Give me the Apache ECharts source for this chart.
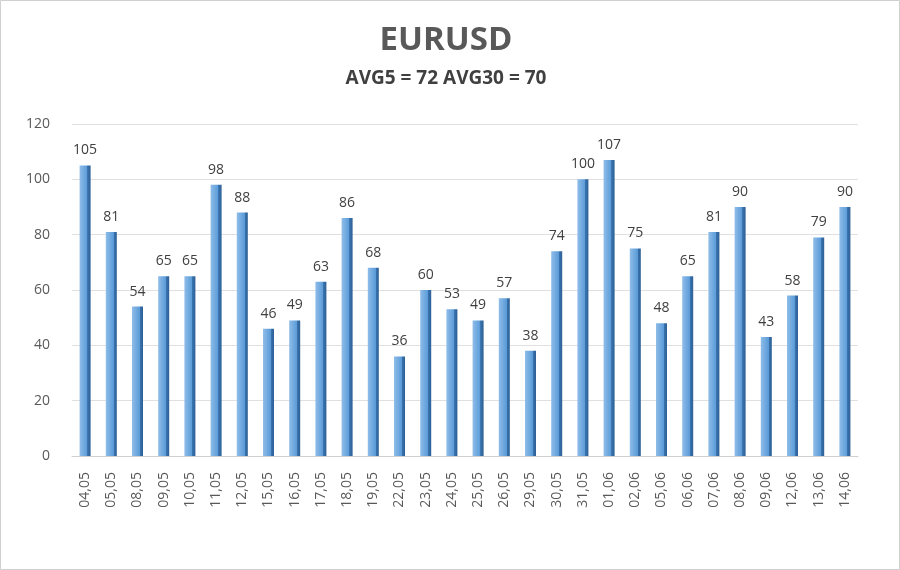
<!DOCTYPE html>
<html><head><meta charset="utf-8">
<script src="https://cdn.jsdelivr.net/npm/echarts@6/dist/echarts.min.js"></script>
<style>html,body{margin:0;padding:0;background:#fff}#c{width:900px;height:570px}</style>
</head><body><div id="c"></div>
<script>
const categories = ["04,05","05,05","08,05","09,05","10,05","11,05","12,05","15,05","16,05","17,05","18,05","19,05","22,05","23,05","24,05","25,05","26,05","29,05","30,05","31,05","01,06","02,06","05,06","06,06","07,06","08,06","09,06","12,06","13,06","14,06"];
const values = [105,81,54,65,65,98,88,46,49,63,86,68,36,60,53,49,57,38,74,100,107,75,48,65,81,90,43,58,79,90];
const yTicks = [0,20,40,60,80,100,120];
const titleText = "EURUSD";
const subtitleText = "AVG5 = 72 AVG30 = 70";

const chart = echarts.init(document.getElementById('c'), null, {renderer:'canvas'});
const font = "'Open Sans', 'Noto Sans', sans-serif";
chart.setOption({
  animation:false,
  backgroundColor:'#fff',
  title:[
    {text:titleText,left:441,textAlign:'center',top:19,textStyle:{fontFamily:font,fontSize:33,fontWeight:'bold',color:'#595959'}},
    {text:subtitleText,left:441,textAlign:'center',top:64,textStyle:{fontFamily:font,fontSize:19,fontWeight:'bold',color:'#404040'}}
  ],
  graphic:[{type:'rect',shape:{x:0.5,y:0.5,width:899,height:569},style:{fill:'none',stroke:'#d0d0d0',lineWidth:1},silent:true}],
  grid:{left:72,right:42,top:124,bottom:114},
  xAxis:{type:'category',data:categories,
    axisLine:{lineStyle:{color:'#d0d0d0'}},axisTick:{show:false},
    axisLabel:{rotate:90,fontFamily:font,fontSize:14,color:'#595959',margin:16}},
  yAxis:{type:'value',min:0,max:120,interval:20,
    axisLine:{show:false},axisTick:{show:false},
    splitLine:{lineStyle:{color:'#e0e0e0'}},
    axisLabel:{fontFamily:font,fontSize:14,color:'#595959',margin:22,
      formatter:v=>yTicks.includes(v)?String(v):''}},
  series:[{type:'bar',data:values,barWidth:11,
    itemStyle:{color:new echarts.graphic.LinearGradient(0,0,1,0,[
      {offset:0,color:'#8fbde9'},{offset:0.7,color:'#5b9bd8'},{offset:0.72,color:'#3a74b0'},{offset:1,color:'#2d5f94'}])},
    label:{show:true,position:'top',distance:8,fontFamily:font,fontSize:14,color:'#404040'}}]
});
</script></body></html>
